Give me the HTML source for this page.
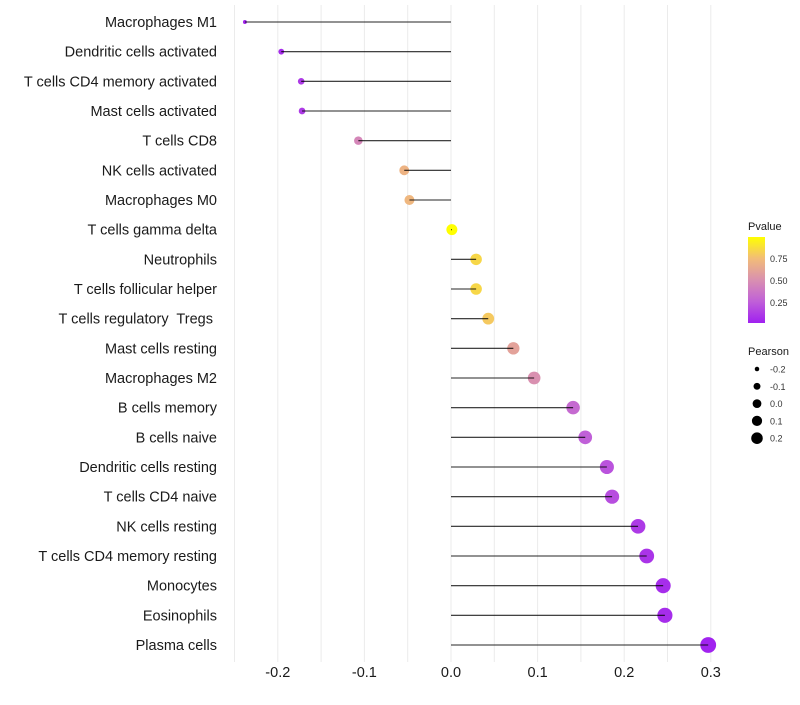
<!DOCTYPE html>
<html><head><meta charset="utf-8"><style>
body{margin:0;background:#fff;font-family:"Liberation Sans",sans-serif}
svg text{font-family:"Liberation Sans",sans-serif;white-space:pre}
</style></head><body>
<svg id="chart" width="800" height="700" xmlns="http://www.w3.org/2000/svg">
<defs><linearGradient id="pg" x1="0" y1="1" x2="0" y2="0">
<stop offset="0" stop-color="#a020f0"/><stop offset="0.25" stop-color="#c060d8"/><stop offset="0.5" stop-color="#d990b0"/><stop offset="0.75" stop-color="#f2bc78"/><stop offset="1" stop-color="#ffff00"/></linearGradient></defs>
<g id="grid"></g>
<g id="marks"></g>
<g id="labels"></g>
<g id="xticks"></g>
<g>
<text x="748" y="230" font-size="11" fill="#1a1a1a">Pvalue</text>
<rect x="748" y="237" width="17" height="86" fill="url(#pg)"/>
<text x="770" y="262" font-size="9" fill="#333">0.75</text>
<text x="770" y="284" font-size="9" fill="#333">0.50</text>
<text x="770" y="306" font-size="9" fill="#333">0.25</text>
</g>
<g id="sizeleg">
<text x="748" y="355" font-size="11" fill="#1a1a1a">Pearson</text>
</g>
</svg>
<script>
const categories=["Macrophages M1","Dendritic cells activated","T cells CD4 memory activated","Mast cells activated","T cells CD8","NK cells activated","Macrophages M0","T cells gamma delta","Neutrophils","T cells follicular helper","T cells regulatory  Tregs ","Mast cells resting","Macrophages M2","B cells memory","B cells naive","Dendritic cells resting","T cells CD4 naive","NK cells resting","T cells CD4 memory resting","Monocytes","Eosinophils","Plasma cells"];
const pearson=[-0.238,-0.196,-0.173,-0.172,-0.107,-0.054,-0.048,0.001,0.029,0.029,0.043,0.072,0.096,0.141,0.155,0.180,0.186,0.216,0.226,0.245,0.247,0.297];
const pvalue=[0.02,0.05,0.1,0.1,0.45,0.7,0.72,1.0,0.85,0.85,0.8,0.6,0.5,0.3,0.25,0.2,0.18,0.1,0.08,0.05,0.05,0.01];
const xTicks=[-0.2,-0.1,0.0,0.1,0.2,0.3];
const xTickLabels=["-0.2","-0.1","0.0","0.1","0.2","0.3"];
const sizeLegend=[-0.2,-0.1,0.0,0.1,0.2];
const sizeLegendLabels=["-0.2","-0.1","0.0","0.1","0.2"];

const NS="http://www.w3.org/2000/svg";
const X=v=>451+v*866;
const Y=i=>22+i*(623/(categories.length-1));
const R=v=>Math.sqrt(Math.max(2.25,8+(v+0.2)*110));
const stops=[[0,[160,32,240]],[0.25,[192,96,216]],[0.5,[217,144,176]],[0.75,[242,188,120]],[1,[255,255,0]]];
function col(p){for(let i=1;i<stops.length;i++){if(p<=stops[i][0]){const a=stops[i-1],b=stops[i],t=(p-a[0])/(b[0]-a[0]);return "rgb("+a[1].map((c,k)=>Math.round(c+(b[1][k]-c)*t)).join(",")+")";}}return "rgb(255,255,0)";}
function mk(tag,attrs,parent){const e=document.createElementNS(NS,tag);for(const k in attrs)e.setAttribute(k,attrs[k]);parent.appendChild(e);return e;}
const grid=document.getElementById("grid"),marks=document.getElementById("marks"),labels=document.getElementById("labels"),xt=document.getElementById("xticks"),sl=document.getElementById("sizeleg");
for(let v=-0.25;v<=0.301;v+=0.05){const g=mk("line",{x1:X(v),x2:X(v),y1:5,y2:662,stroke:"#ebebeb","stroke-width":1},grid);

}
categories.forEach((c,i)=>{
const t=mk("text",{x:217,y:Y(i)+5,"text-anchor":"end","font-size":14.5,fill:"#1a1a1a"},labels);t.textContent=c;


const p=mk("circle",{cx:X(pearson[i]),cy:Y(i),r:R(pearson[i]),fill:col(pvalue[i])},marks);


const s=mk("line",{x1:X(0),x2:X(pearson[i]),y1:Y(i),y2:Y(i),stroke:"#000","stroke-width":1.1,"stroke-opacity":0.85},marks);


});
xTicks.forEach((v,i)=>{const t=mk("text",{x:X(v),y:677,"text-anchor":"middle","font-size":14.5,fill:"#1a1a1a"},xt);t.textContent=xTickLabels[i];

});
sizeLegend.forEach((v,i)=>{const y=369+i*17.3;
const c=mk("circle",{cx:757,cy:y,r:R(v)*0.8,fill:"#000"},sl);


const t=mk("text",{x:770,y:y+3.5,"font-size":9,fill:"#333"},sl);t.textContent=sizeLegendLabels[i];

});
</script>
</body></html>
